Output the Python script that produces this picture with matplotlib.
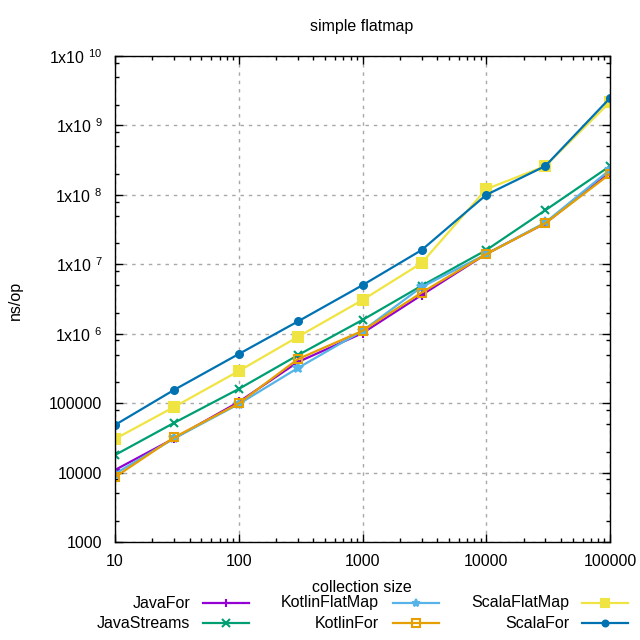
import matplotlib
matplotlib.use("Agg")
import matplotlib.pyplot as plt
from matplotlib.lines import Line2D
from matplotlib.ticker import LogLocator, FixedLocator, FuncFormatter, NullFormatter

plt.rcParams['font.family'] = ['Liberation Sans', 'DejaVu Sans']
plt.rcParams['mathtext.default'] = 'regular'

sizes = [10, 30, 100, 300, 1000, 3000, 10000, 30000, 100000]
series_names = ["JavaFor", "JavaStreams", "KotlinFlatMap", "KotlinFor", "ScalaFlatMap", "ScalaFor"]
java_for = [1.09e4, 3.1e4, 1.04e5, 3.9e5, 1.02e6, 3.6e6, 1.41e7, 3.9e7, 2.1e8]
java_streams = [1.79e4, 5.2e4, 1.6e5, 4.9e5, 1.58e6, 4.9e6, 1.6e7, 6.0e7, 2.6e8]
kotlin_flatmap = [9.6e3, 3.1e4, 9.7e4, 3.2e5, 1.1e6, 4.7e6, 1.4e7, 4.0e7, 2.3e8]
kotlin_for = [8.6e3, 3.2e4, 9.9e4, 4.3e5, 1.1e6, 3.9e6, 1.4e7, 3.9e7, 2.0e8]
scala_flatmap = [3.05e4, 8.8e4, 2.9e5, 9.0e5, 3.06e6, 1.04e7, 1.21e8, 2.6e8, 2.17e9]
scala_for = [4.85e4, 1.55e5, 5.1e5, 1.5e6, 5.0e6, 1.6e7, 1.0e8, 2.6e8, 2.48e9]

values = [java_for, java_streams, kotlin_flatmap, kotlin_for, scala_flatmap, scala_for]
colors = ["#9400d3", "#009e73", "#56b4e9", "#e69f00", "#f0e442", "#0072b2"]
markers = ["+", "x", "*", "s", "s", "o"]
mfcs = [None, None, None, "none", None, None]
msizes = [7, 6, 7, 6, 6.5, 5]

FS = 11.5
fig = plt.figure(figsize=(6.4, 6.4), dpi=100)
ax = fig.add_axes([115/640, 1 - 542/640, 495/640, 486/640])

handles = []
for name, v, c, m, mf, ms in zip(series_names, values, colors, markers, mfcs, msizes):
    kw = dict(color=c, marker=m, markersize=ms, linewidth=1.6, markeredgewidth=1.5)
    if mf == "none":
        kw['markerfacecolor'] = 'none'
    ax.plot(sizes, v, **kw)
    handles.append((name, kw))

ax.set_xscale('log')
ax.set_yscale('log')
ax.set_xlim(10, 100000)
ax.set_ylim(1e3, 1e10)

ax.xaxis.set_major_locator(FixedLocator([10, 100, 1000, 10000, 100000]))
ax.xaxis.set_minor_locator(LogLocator(base=10, subs=[2, 3, 4, 5, 6, 7, 8, 9]))
ax.yaxis.set_major_locator(FixedLocator([1e3, 1e4, 1e5, 1e6, 1e7, 1e8, 1e9, 1e10]))
ax.yaxis.set_minor_locator(LogLocator(base=10, subs=[2, 5, 8]))
ax.xaxis.set_minor_formatter(NullFormatter())
ax.yaxis.set_minor_formatter(NullFormatter())

def yfmt(v, pos):
    import math
    e = int(round(math.log10(v)))
    if e <= 5:
        return str(int(round(v)))
    return '1x10 $^{%d}$' % e

ax.yaxis.set_major_formatter(FuncFormatter(yfmt))
ax.xaxis.set_major_formatter(FuncFormatter(lambda v, p: str(int(round(v)))))

ax.tick_params(which='both', direction='in', top=True, right=True, labelsize=FS, width=1, colors='black')
ax.tick_params(which='major', length=6, pad=9)
ax.tick_params(which='minor', length=3)
ax.grid(True, which='major', linestyle=(0, (2.5, 3.5)), color='#a8a8a8', linewidth=1)
for s in ax.spines.values():
    s.set_linewidth(1)
    s.set_color('black')

fig.text(362/640, 1 - 27/640, "simple flatmap", ha='center', va='center', fontsize=FS)
fig.text(362/640, 1 - 587/640, "collection size", ha='center', va='center', fontsize=FS)
fig.text(15/640, 1 - 300/640, "ns/op", ha='center', va='center', rotation=90, fontsize=FS)

# legend (gnuplot style: right-aligned text then sample)
text_right = [190, 379, 569]
line_start = [203, 393, 582]
line_len = 46
row_y = [603, 623]
for i, (name, kw) in enumerate(handles):
    col, row = i // 2, i % 2
    y = 1 - row_y[row] / 640
    fig.text(text_right[col] / 640, y, name, ha='right', va='center', fontsize=FS)
    x0 = line_start[col] / 640
    x1 = (line_start[col] + line_len) / 640
    fig.add_artist(Line2D([x0, x1], [y, y], transform=fig.transFigure, color=kw['color'], linewidth=1.6))
    mkw = dict(kw)
    mkw.pop('linewidth')
    mkw['markersize'] = kw['markersize'] * 0.85
    fig.add_artist(Line2D([(x0 + x1) / 2], [y], transform=fig.transFigure, linestyle='none', **mkw))

fig.savefig("out.png", dpi=100)
